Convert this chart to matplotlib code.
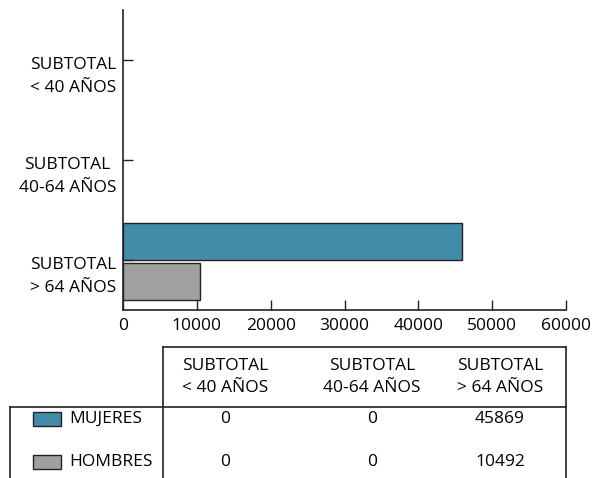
import matplotlib
matplotlib.use("Agg")
import matplotlib.pyplot as plt
from matplotlib.lines import Line2D
from matplotlib.patches import Rectangle
import matplotlib.transforms as mtrans

plt.rcParams['font.family'] = ['Open Sans', 'DejaVu Sans']

categories = ["SUBTOTAL\n< 40 AÑOS", "SUBTOTAL\n40-64 AÑOS", "SUBTOTAL\n> 64 AÑOS"]
series_names = ["MUJERES", "HOMBRES"]
mujeres = [0, 0, 45869]
hombres = [0, 0, 10492]
colors = ["#438ca9", "#a0a0a0"]
xticks = [0, 10000, 20000, 30000, 40000, 50000, 60000]

FS = 12.5
W, H = 593, 478
fig = plt.figure(figsize=(W / 100, H / 100), dpi=100)
ax = fig.add_axes([123 / W, 1 - 310 / H, (566 - 123) / W, 300 / H])

ypos = list(range(len(categories)))
bh = 0.37
ax.barh([y - 0.19 for y in ypos], mujeres, height=bh, color=colors[0], edgecolor="#222222",
        linewidth=[1 if v else 0 for v in mujeres])
ax.barh([y + 0.21 for y in ypos], hombres, height=bh, color=colors[1], edgecolor="#222222",
        linewidth=[1 if v else 0 for v in hombres])

ax.set_ylim(2.5, -0.5)
ax.set_xlim(0, 60000)
ax.set_xticks(xticks)
ax.set_xticklabels([str(v) for v in xticks], fontsize=FS)
ax.set_yticks(ypos)
ax.set_yticklabels(categories, fontsize=FS, multialignment="center", linespacing=1.55)
ax.tick_params(axis="both", direction="in", length=7, width=1, colors="#222222", labelcolor="black")
ax.tick_params(axis="y", pad=5)
ax.tick_params(axis="x", pad=6)
offset = mtrans.ScaledTranslation(0, -11 / 100, fig.dpi_scale_trans)
for lbl in ax.get_yticklabels():
    lbl.set_transform(lbl.get_transform() + offset)
for s in ["top", "right"]:
    ax.spines[s].set_visible(False)
for s in ["left", "bottom"]:
    ax.spines[s].set_color("#222222")
    ax.spines[s].set_linewidth(1.2)

# table
def fx(x):
    return x / W

def fy(y):
    return 1 - y / H

lines = [
    ((163, 347), (566, 347)),
    ((163, 347), (163, 478)),
    ((566, 347), (566, 478)),
    ((10, 407), (566, 407)),
    ((10, 407), (10, 478)),
]
for (x0, y0), (x1, y1) in lines:
    fig.add_artist(Line2D([fx(x0), fx(x1)], [fy(y0), fy(y1)], color="#222222", linewidth=1.2))

col_centers = [225, 372, 500]
for cx, cat in zip(col_centers, categories):
    fig.text(fx(cx), fy(377), cat, ha="center", va="center", fontsize=FS, multialignment="center",
             linespacing=1.45)

row_y = [419, 462]
for ry, name, col, vals in zip(row_y, series_names, colors, [mujeres, hombres]):
    fig.add_artist(Rectangle((fx(33), fy(ry + 7)), fx(61) - fx(33), fy(ry - 7) - fy(ry + 7),
                             facecolor=col, edgecolor="#222222", linewidth=1))
    fig.text(fx(69), fy(ry), name, ha="left", va="center", fontsize=FS)
    for cx, v in zip(col_centers, vals):
        fig.text(fx(cx), fy(ry), str(v), ha="center", va="center", fontsize=FS)

fig.savefig("out.png", dpi=100)
